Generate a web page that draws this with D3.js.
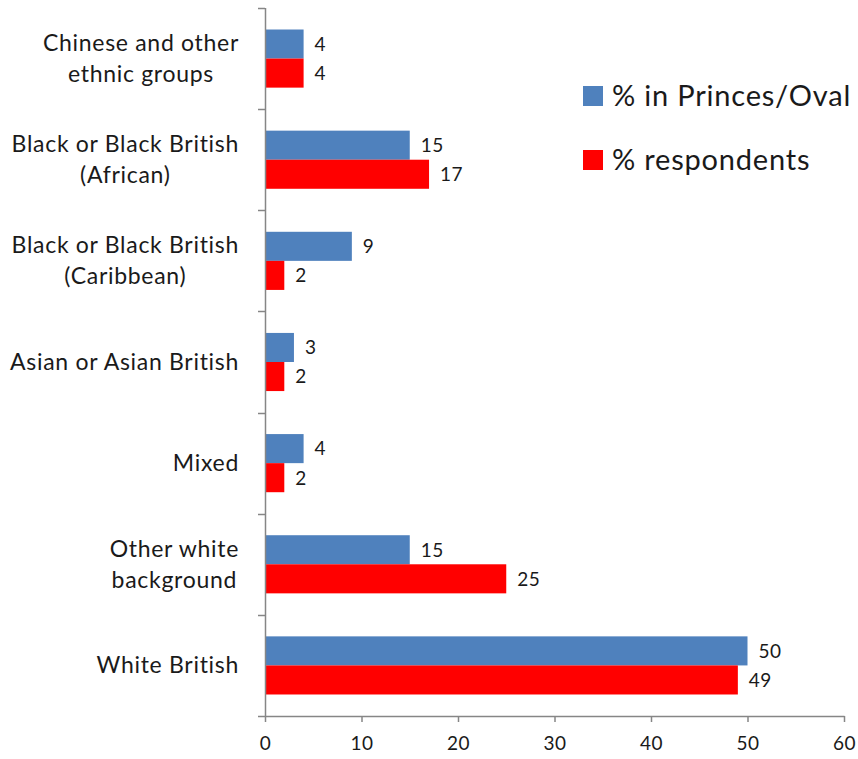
<!DOCTYPE html>
<html>
<head>
<meta charset="utf-8">
<script src="https://cdn.jsdelivr.net/npm/d3@7"></script>
<style>
  html, body { margin: 0; padding: 0; background: #fff; }
  svg { display: block; font-family: Lato, "Liberation Sans", sans-serif; }
</style>
</head>
<body>
<svg id="chart" width="858" height="759"></svg>
<script>
// Ethnic groups, top to bottom
const categories = [
  ["Chinese and other", "ethnic groups"],
  ["Black or Black British", "(African)"],
  ["Black or Black British", "(Caribbean)"],
  ["Asian or Asian British"],
  ["Mixed"],
  ["Other white", "background"],
  ["White British"]
];
const seriesNames = ["% in Princes/Oval", "% respondents"];
const seriesColors = ["#4F81BD", "#FF0000"];
const princesOval = [4, 15, 9, 3, 4, 15, 50];
const respondents = [4, 17, 2, 2, 2, 25, 49];
const xTicks = [0, 10, 20, 30, 40, 50, 60];

const svg = d3.select("#chart");
const axisColor = "#868686";
const textColor = "#1a1a1a";

const plotLeft = 265, plotRight = 844, plotTop = 8, plotBottom = 716;
const keys = categories.map((c, i) => i);

const x = d3.scaleLinear().domain([0, 60]).range([plotLeft, plotRight]);
const y = d3.scaleBand().domain(keys).range([plotTop, plotBottom]).padding(0);
const sub = d3.scaleBand().domain([0, 1]).range([0, y.bandwidth()])
  .paddingInner(0).paddingOuter(0.74);

const values = [princesOval, respondents];

// Bars
values.forEach((vals, s) => {
  svg.append("g").selectAll("rect")
    .data(vals)
    .join("rect")
    .attr("x", x(0))
    .attr("y", (d, i) => y(i) + sub(s))
    .attr("width", d => x(d) - x(0))
    .attr("height", sub.bandwidth())
    .attr("fill", seriesColors[s]);

  // Value labels
  svg.append("g").selectAll("text")
    .data(vals)
    .join("text")
    .attr("x", d => x(d) + 11)
    .attr("y", (d, i) => y(i) + sub(s) + sub.bandwidth() / 2)
    .attr("dy", "0.36em")
    .attr("font-size", 19)
    .attr("letter-spacing", 0.4)
    .attr("fill", textColor)
    .text(d => d);
});

// Y axis line and category ticks
svg.append("line")
  .attr("x1", plotLeft + 0.5).attr("x2", plotLeft + 0.5)
  .attr("y1", plotTop).attr("y2", plotBottom)
  .attr("stroke", axisColor).attr("stroke-width", 1.5);
const boundaries = keys.map(k => y(k)).concat([plotBottom]);
svg.append("g").selectAll("line")
  .data(boundaries)
  .join("line")
  .attr("x1", plotLeft - 7).attr("x2", plotLeft)
  .attr("y1", d => Math.round(d) + 0.5).attr("y2", d => Math.round(d) + 0.5)
  .attr("stroke", axisColor).attr("stroke-width", 1.5);

// X axis
const xAxis = svg.append("g")
  .attr("transform", `translate(0,${plotBottom})`)
  .call(d3.axisBottom(x).tickValues(xTicks).tickSize(6).tickSizeOuter(0));
xAxis.select(".domain").attr("stroke", axisColor).attr("stroke-width", 1.5);
xAxis.selectAll(".tick line").attr("stroke", axisColor).attr("stroke-width", 1.5);
xAxis.selectAll(".tick text")
  .attr("font-size", 19)
  .attr("letter-spacing", 0.4)
  .attr("font-family", "Lato, sans-serif")
  .attr("fill", textColor)
  .attr("y", 21);

// Category labels, lines centred, block right-aligned
const lineH = 31;
categories.forEach((lines, i) => {
  const cy = y(i) + y.bandwidth() / 2;
  const g = svg.append("text")
    .attr("font-size", 23)
    .attr("letter-spacing", 0.7)
    .attr("fill", textColor)
    .attr("text-anchor", "middle");
  const tspans = lines.map((ln, j) =>
    g.append("tspan")
      .attr("y", cy + 8 + (j - (lines.length - 1) / 2) * lineH)
      .text(ln));
  const widths = tspans.map(t => t.node().getComputedTextLength());
  const maxW = d3.max(widths);
  const cx = 239 - maxW / 2;
  tspans.forEach(t => t.attr("x", cx));
});

// Legend
const legend = svg.append("g");
seriesNames.forEach((name, s) => {
  const ly = 96 + s * 64;
  legend.append("rect")
    .attr("x", 583).attr("y", ly - 10)
    .attr("width", 20).attr("height", 20)
    .attr("fill", seriesColors[s]);
  legend.append("text")
    .attr("x", 612).attr("y", ly + 10)
    .attr("font-size", 29)
    .attr("letter-spacing", 0.8)
    .attr("fill", textColor)
    .text(name);
});
</script>
</body>
</html>
